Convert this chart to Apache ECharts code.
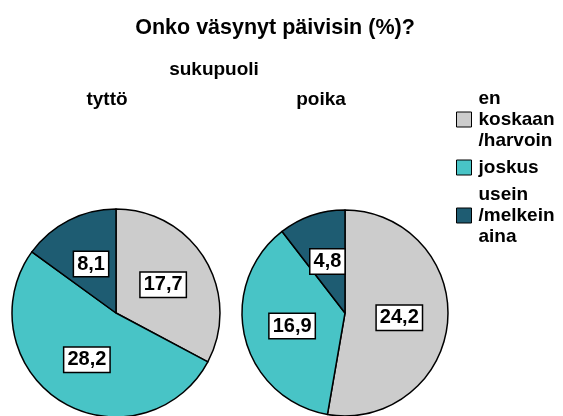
<!DOCTYPE html>
<html>
<head>
<meta charset="utf-8">
<script src="https://cdn.jsdelivr.net/npm/echarts@6/dist/echarts.min.js"></script>
<style>
  html, body { margin: 0; padding: 0; background: #fff; }
  #chart { width: 563px; height: 416px; }
</style>
</head>
<body>
<div id="chart"></div>
<script>
// vastausvaihtoehdot
const categories = ['en\nkoskaan\n/harvoin', 'joskus', 'usein\n/melkein\naina'];
const groups = ['tyttö', 'poika'];
const tyttoValues = [17.7, 28.2, 8.1];
const poikaValues = [24.2, 16.9, 4.8];
const colors = ['#CCCCCC', '#48C4C6', '#1E5C72'];

const font = 'Liberation Sans, Arial, sans-serif';

const chart = echarts.init(document.getElementById('chart'));

function pieSeries(name, values, center, radius) {
  return {
    name: name,
    type: 'pie',
    center: center,
    radius: radius,
    startAngle: 90,
    clockwise: true,
    animation: false,
    emphasis: { disabled: true },
    itemStyle: { borderColor: '#000', borderWidth: 1.5 },
    label: {
      position: 'inside',
      formatter: (p) => String(p.value).replace('.', ','),
      fontFamily: font,
      fontWeight: 'bold',
      fontSize: 20,
      color: '#000',
      backgroundColor: '#fff',
      borderColor: '#000',
      borderWidth: 1.5,
      padding: [3, 3, 1, 3],
    },
    labelLine: { show: false },
    data: values.map((v, i) => ({ name: categories[i], value: v })),
  };
}

function heading(text, x, y, size) {
  return {
    text: text,
    left: x, top: y, textAlign: 'center', padding: 0,
    textStyle: { fontFamily: font, fontWeight: 'bold', fontSize: size, color: '#000' },
  };
}

chart.setOption({
  color: colors,
  animation: false,
  title: [
    heading('Onko väsynyt päivisin (%)?', 275, 17, 21.5),
    heading('sukupuoli', 214, 60, 19),
    heading(groups[0], 107, 90, 19),
    heading(groups[1], 321, 90, 19),
  ],
  legend: {
    orient: 'vertical',
    left: 456,
    top: 88,
    padding: 0,
    itemWidth: 15,
    itemHeight: 15,
    itemGap: 6,
    icon: 'rect',
    selectedMode: false,
    itemStyle: { borderColor: '#000', borderWidth: 1 },
    textStyle: {
      fontFamily: font, fontWeight: 'bold', fontSize: 19, color: '#000',
      lineHeight: 21, padding: [0, 0, 0, 2],
    },
    data: categories,
  },
  series: [
    pieSeries(groups[0], tyttoValues, [116, 313], 104),
    pieSeries(groups[1], poikaValues, [345, 313], 103),
  ],
});
</script>
</body>
</html>
